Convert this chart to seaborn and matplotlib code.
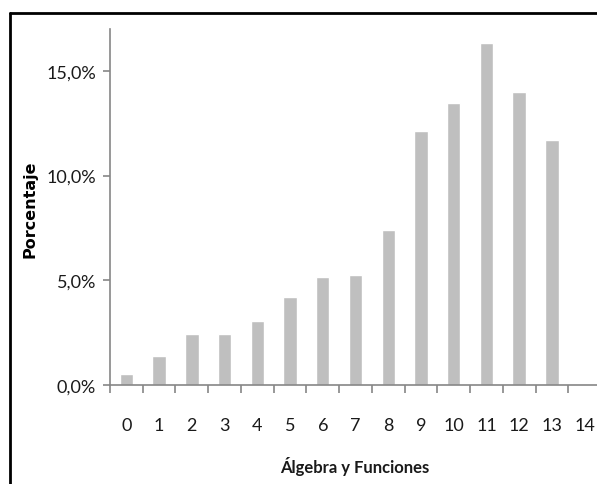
import matplotlib
matplotlib.use("Agg")
import matplotlib.pyplot as plt
import seaborn as sns
import pandas as pd
from matplotlib.lines import Line2D
from matplotlib.ticker import FixedLocator, FuncFormatter

categories = [str(i) for i in range(15)]
values = [0.54, 1.40, 2.45, 2.45, 3.07, 4.19, 5.15, 5.26, 7.42, 12.15, 13.46, 16.34, 13.97, 11.71, 0.0]
y_ticks = [0, 5, 10, 15]

sns.set_style("white")
plt.rcParams['font.family'] = ['Lato', 'DejaVu Sans']

df = pd.DataFrame({"cat": categories, "val": values})

fig = plt.figure(figsize=(5.97, 4.85), dpi=100)
ax = fig.add_axes([110/597, 1-386/485, 491/597, 356/485])

sns.barplot(data=df, x="cat", y="val", color="#BFBFBF", width=0.41,
            saturation=1, ax=ax, order=categories)

ax.set_xlim(-0.5, 14.5)
ax.set_ylim(0, 17.0)

for s in ["top", "right"]:
    ax.spines[s].set_visible(False)
for s in ["left", "bottom"]:
    ax.spines[s].set_color("#868686")
    ax.spines[s].set_linewidth(1.2)

ax.set_yticks(y_ticks)
ax.yaxis.set_major_formatter(FuncFormatter(lambda v, p: f"{v:.1f}%".replace(".", ",")))
ax.tick_params(axis="y", direction="out", length=5, width=1.2, color="#868686",
               labelsize=13, labelcolor="#1a1a1a", pad=5, left=True)

ax.set_xticks(range(15))
ax.set_xticklabels(categories)
ax.tick_params(axis="x", which="major", length=0, labelsize=13, labelcolor="#1a1a1a", pad=23)
ax.xaxis.set_minor_locator(FixedLocator([i - 0.5 for i in range(16)]))
ax.tick_params(axis="x", which="minor", direction="out", length=6, width=1.2,
               color="#868686", bottom=True)

ax.set_xlabel("")
ax.set_ylabel("")

fig.text(355/597, 1-467/485, "Álgebra y Funciones", ha="center", va="center",
         fontsize=12, fontweight="bold", color="#1a1a1a")
fig.text(30/597, 1-209/485, "Porcentaje", ha="center", va="center", rotation=90,
         fontsize=11.5, fontweight="bold", color="#000000", family=['DejaVu Sans'])

fig.add_artist(Line2D([10/597, 10/597], [0, 1-14/485], transform=fig.transFigure,
                      color="black", linewidth=2))
fig.add_artist(Line2D([10/597, 1], [1-14/485, 1-14/485], transform=fig.transFigure,
                      color="black", linewidth=2))

fig.savefig("out.png", dpi=100)
